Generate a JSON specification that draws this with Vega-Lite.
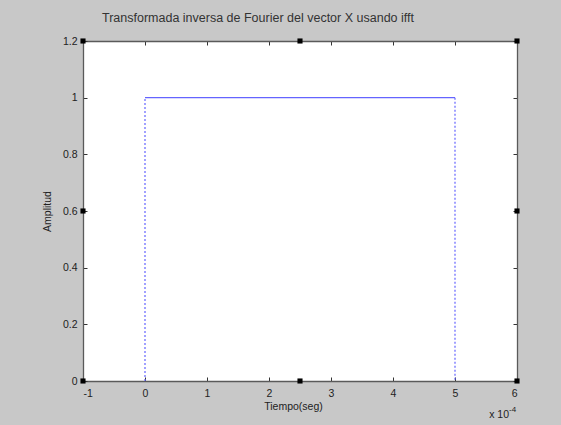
{
  "$schema": "https://vega.github.io/schema/vega-lite/v6.json",
  "width": 434,
  "height": 340,
  "autosize": {"type": "none"},
  "padding": {"left": 83, "top": 41, "right": 44, "bottom": 44},
  "background": "#c8c8c8",
  "config": {
    "view": {"fill": "white", "stroke": null},
    "font": "Liberation Sans",
    "axis": {
      "grid": false,
      "domainColor": "#5a5a5a",
      "domainWidth": 1.3,
      "tickColor": "#333333",
      "tickSize": -4,
      "labelFontSize": 10.5,
      "labelColor": "#222222",
      "labelFont": "Liberation Sans",
      "titleFont": "Liberation Sans",
      "titleFontSize": 10.5,
      "titleFontWeight": "normal",
      "titleColor": "#222222"
    }
  },
  "title": {
    "text": "Transformada inversa de Fourier del vector X usando ifft",
    "fontSize": 12.5,
    "fontWeight": "normal",
    "color": "#333333",
    "font": "Liberation Sans",
    "anchor": "middle",
    "dx": -42,
    "offset": 12
  },
  "layer": [
    {
      "data": {
        "values": [
          {"t": 0, "a": 0, "tramo": "subida", "estilo": "discontinua"},
          {"t": 0, "a": 1, "tramo": "subida", "estilo": "discontinua"},
          {"t": 0, "a": 1, "tramo": "meseta", "estilo": "continua"},
          {"t": 0.0005, "a": 1, "tramo": "meseta", "estilo": "continua"},
          {"t": 0.0005, "a": 1, "tramo": "bajada", "estilo": "discontinua"},
          {"t": 0.0005, "a": 0, "tramo": "bajada", "estilo": "discontinua"}
        ]
      },
      "mark": {"type": "line", "color": "#6464ff", "strokeWidth": 1.2},
      "encoding": {
        "x": {
          "field": "t", "type": "quantitative",
          "scale": {"domain": [-0.0001, 0.0006], "nice": false, "zero": false},
          "axis": {
            "orient": "bottom",
            "values": [-0.0001, 0, 0.0001, 0.0002, 0.0003, 0.0004, 0.0005, 0.0006],
            "labelExpr": "'' + round(datum.value * 10000)",
            "labelPadding": 11,
            "title": "Tiempo(seg)",
            "titlePadding": 3,
            "titleX": 210
          }
        },
        "y": {
          "field": "a", "type": "quantitative",
          "scale": {"domain": [0, 1.2], "nice": false},
          "axis": {
            "orient": "left",
            "values": [0, 0.2, 0.4, 0.6, 0.8, 1, 1.2],
            "format": "~g",
            "labelPadding": 10,
            "title": "Amplitud",
            "titlePadding": 10
          }
        },
        "detail": {"field": "tramo"},
        "strokeDash": {
          "field": "estilo", "type": "nominal",
          "scale": {"domain": ["continua", "discontinua"], "range": [[1, 0], [2, 2]]},
          "legend": null
        }
      }
    },
    {
      "data": {
        "values": [
          {"t": -0.0001, "a": 0}, {"t": -0.0001, "a": 0.6}, {"t": -0.0001, "a": 1.2},
          {"t": 0.00025, "a": 0}, {"t": 0.00025, "a": 1.2},
          {"t": 0.0006, "a": 0}, {"t": 0.0006, "a": 0.6}, {"t": 0.0006, "a": 1.2}
        ]
      },
      "mark": {"type": "square", "color": "black", "filled": true, "opacity": 1, "size": 26},
      "encoding": {
        "x": {
          "field": "t", "type": "quantitative",
          "scale": {"domain": [-0.0001, 0.0006], "nice": false, "zero": false},
          "axis": {"orient": "top", "values": [-0.0001, 0, 0.0001, 0.0002, 0.0003, 0.0004, 0.0005, 0.0006], "labels": false, "title": null}
        },
        "y": {
          "field": "a", "type": "quantitative",
          "scale": {"domain": [0, 1.2], "nice": false},
          "axis": {"orient": "right", "values": [0, 0.2, 0.4, 0.6, 0.8, 1, 1.2], "labels": false, "title": null}
        }
      }
    },
    {
      "data": {"values": [{"t": 0.0006, "a": 0, "base": "x 10", "exponente": "-4"}]},
      "encoding": {
        "x": {"field": "t", "type": "quantitative", "scale": {"domain": [-0.0001, 0.0006], "nice": false, "zero": false}, "axis": null},
        "y": {"field": "a", "type": "quantitative", "scale": {"domain": [0, 1.2], "nice": false}, "axis": null}
      },
      "layer": [
        {
          "mark": {"type": "text", "align": "right", "baseline": "alphabetic", "dx": -8, "dy": 37, "fontSize": 10.5, "color": "#222222", "font": "Liberation Sans"},
          "encoding": {"text": {"field": "base"}}
        },
        {
          "mark": {"type": "text", "align": "left", "baseline": "alphabetic", "dx": -8, "dy": 31, "fontSize": 8, "color": "#222222", "font": "Liberation Sans"},
          "encoding": {"text": {"field": "exponente"}}
        }
      ]
    }
  ],
  "resolve": {"scale": {"x": "independent", "y": "independent"}}
}
